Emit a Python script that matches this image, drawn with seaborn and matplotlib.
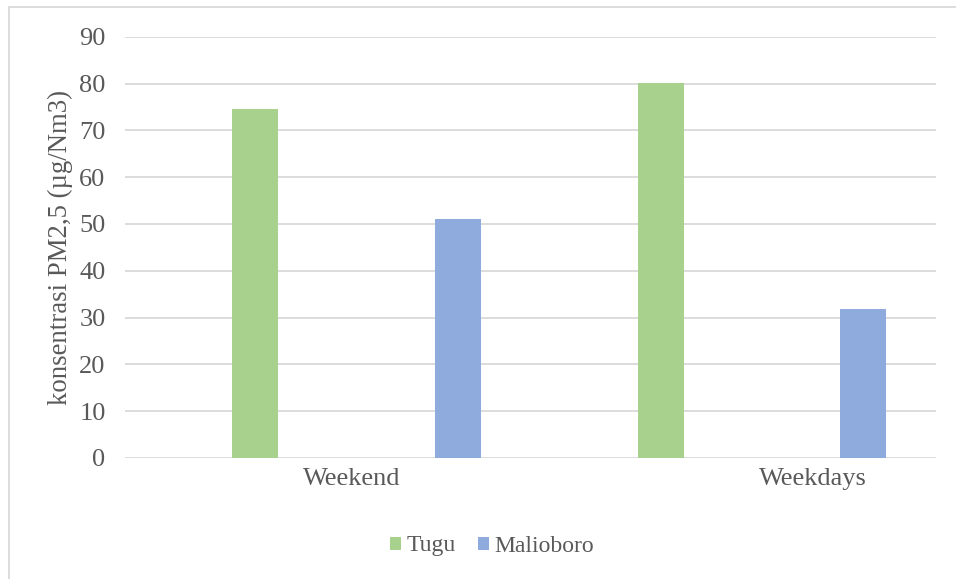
import matplotlib
matplotlib.use("Agg")
import matplotlib.pyplot as plt
from matplotlib.patches import Rectangle
import pandas as pd
import seaborn as sns

# PM2.5 concentration per location and period
periods = ["Weekend", "Weekdays"]
sites = ["Tugu", "Malioboro"]
tugu_values = [74.6, 80.2]
malioboro_values = [51.1, 31.9]
y_ticks = [0, 10, 20, 30, 40, 50, 60, 70, 80, 90]

site_colors = {"Tugu": "#a9d18e", "Malioboro": "#8faadc"}
text_color = "#595959"
grid_color = "#d9d9d9"

df = pd.DataFrame({
    "period": periods * 2,
    "site": [sites[0]] * len(periods) + [sites[1]] * len(periods),
    "value": tugu_values + malioboro_values,
})

sns.set_theme(style="white")
plt.rcParams["font.family"] = ["Liberation Serif", "DejaVu Serif"]

fig = plt.figure(figsize=(9.56, 5.79), dpi=100)
ax = fig.add_axes([0.1308, 0.209, 0.8483, 0.7276])

sns.barplot(
    data=df, x="period", y="value", hue="site", order=periods, hue_order=sites,
    palette=site_colors, width=1.0, gap=0.773, saturation=1, ax=ax,
    linewidth=0, errorbar=None,
)

ax.set_ylim(0, 90)
ax.set_yticks(y_ticks)
ax.set_xlim(-0.571, 1.429)
ax.set_xticks([-0.011, 1.126], labels=periods)

ax.yaxis.grid(True, color=grid_color, linewidth=1.3)
ax.xaxis.grid(False)
ax.set_axisbelow(True)
for spine in ax.spines.values():
    spine.set_visible(False)

ax.tick_params(axis="y", length=0, pad=14, labelsize=19, labelcolor=text_color)
ax.tick_params(axis="x", length=0, pad=7, labelsize=19, labelcolor=text_color)

ax.set_xlabel("")
ax.set_ylabel("konsentrasi PM2,5 (µg/Nm3)", fontsize=19.3, color=text_color)
ax.yaxis.set_label_coords(-0.064, 0.5)

handles, labels = ax.get_legend_handles_labels()
ax.get_legend().remove()
fig.legend(
    handles, labels, loc="center", bbox_to_anchor=(492 / 956, 1 - 546 / 579),
    ncol=2, frameon=False, fontsize=17, handlelength=0.47, handleheight=0.47,
    handletextpad=0.25, columnspacing=0.93, labelcolor=text_color,
)

# chart frame
fig.add_artist(Rectangle(
    (9 / 956, -0.1), 1.2, (1 - 7 / 579) + 0.1, transform=fig.transFigure,
    fill=False, edgecolor=grid_color, linewidth=1.3,
))

fig.savefig("out.png", dpi=100)
